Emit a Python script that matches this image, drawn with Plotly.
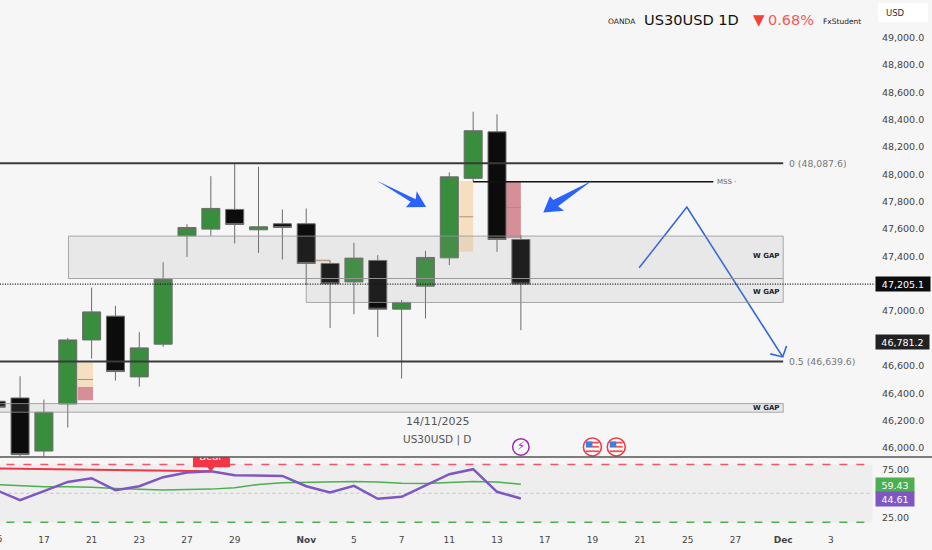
import plotly.graph_objects as go
from plotly.subplots import make_subplots

FONT = 'DejaVu Sans'
BG = '#f6f6f6'
BLUE = '#2f66dd'

# daily bars, index 0 = 15 Oct 2025
bar_index = list(range(23))
opens = [46349, 46373, 45985, 46329, 46797, 46971, 46527, 46766, 47558, 47607, 47751, 47602,
         47646, 47646, 47356, 47221, 47378, 47022, 47190, 47397, 47978, 48318, 47531]
highs = [46370, 46532, 46361, 46812, 47180, 47046, 46854, 47365, 47643, 47994, 48087, 48062,
         47751, 47758, 47378, 47507, 47417, 47088, 47448, 48022, 48465, 48446, 47563]
lows = [46290, 45947, 45947, 46157, 46661, 46500, 46456, 46746, 47404, 47558, 47502, 47433,
        47385, 47200, 46885, 46985, 46819, 46515, 46954, 47344, 47953, 47441, 46868]
closes = [46305, 45959, 46268, 46797, 47002, 46566, 46739, 47241, 47619, 47758, 47641, 47624,
          47619, 47356, 47207, 47395, 47022, 47071, 47400, 47989, 48326, 47531, 47205.1]

rsi = [53.2, 42.9, 52.2, 61.8, 65.6, 53.2, 57.3, 66.7, 71.5, 72.9, 68.7, 68.0,
       68.0, 57.3, 50.8, 57.7, 44.2, 46.3, 57.7, 69.8, 75.0, 51.5, 44.61]
rsi_ma = [59.0, 57.7, 56.7, 56.7, 56.3, 55.0, 54.0, 53.3, 54.0, 54.3, 55.7, 59.1,
          60.8, 61.2, 61.5, 62.2, 61.8, 60.5, 60.1, 61.2, 62.2, 61.8, 59.43]
# bearish divergence line on the rsi pane
div_x = [0, 9]
div_y = [75.7, 72.9]

tick_pos = [2, 4, 6, 8, 10, 13, 15, 17, 19, 21, 23, 25, 27, 29, 31, 33, 35]
tick_text = ['17', '21', '23', '27', '29', '<b>Nov</b>', '5', '7', '11', '13', '17', '19',
             '21', '25', '27', '<b>Dec</b>', '3']
price_ticks = [46000, 46200, 46400, 46600, 47000, 47400, 47600, 47800, 48000, 48200,
               48400, 48600, 48800, 49000]

fib_levels = [48087.6, 46639.6]
fib_labels = ['0 (48,087.6)', '0.5 (46,639.6)']
last_price = 47205.1
second_price = 46781.2

# gap boxes: x0, x1, top, bottom, label y
gaps = [(3.03, 33, 47556, 47246, 47409),
        (13, 33, 47246, 47071, 47146),
        (-1, 33, 46332, 46269, 46303)]

# hand drawn arrows (bar index, price)
arrow1_x = [15.97, 17.59, 17.63, 18.03, 17.18, 17.38]
arrow1_y = [47960, 47826, 47883, 47768, 47766, 47807]
arrow2_x = [24.98, 23.36, 23.22, 22.94, 23.81, 23.56]
arrow2_y = [47960, 47819, 47848, 47729, 47741, 47775]
path_x = [26.96, 28.96, 32.98]
path_y = [47324, 47768, 46673]
head_x = [32.46, 32.98, 33.14]
head_y = [46695, 46673, 46753]

fig = make_subplots(rows=2, cols=1, shared_xaxes=True, vertical_spacing=0,
                    row_heights=[0.8655, 0.1345])

fig.add_trace(go.Candlestick(
    x=bar_index, open=opens, high=highs, low=lows, close=closes,
    increasing=dict(fillcolor='#388e3c', line=dict(color='#6c6c6c', width=1)),
    decreasing=dict(fillcolor='#0c0c0c', line=dict(color='#6c6c6c', width=1)),
    hoverinfo='skip'), row=1, col=1)

fig.add_trace(go.Scatter(x=path_x, y=path_y, mode='lines', line=dict(color=BLUE, width=1.6)), row=1, col=1)
fig.add_trace(go.Scatter(x=head_x, y=head_y, mode='lines', line=dict(color=BLUE, width=1.6)), row=1, col=1)

# event icons, sitting just above the pane border
icon_y = 46015
fig.add_trace(go.Scatter(x=[22], y=[icon_y], mode='markers+text', text=['⚡'],
                         textposition='middle center',
                         textfont=dict(color='#9c27b0', size=12, family=FONT),
                         marker=dict(size=16.5, color='#fbfbfb', line=dict(color='#9c27b0', width=1.5))),
              row=1, col=1)
fig.add_trace(go.Scatter(x=[25, 26], y=[icon_y, icon_y], mode='markers',
                         marker=dict(size=18, color='#fbfbfb', line=dict(color='#ef3b4a', width=1.6))),
              row=1, col=1)

# rsi pane
fig.add_trace(go.Scatter(x=div_x, y=div_y, mode='lines', line=dict(color='#f23645', width=2)), row=2, col=1)
fig.add_trace(go.Scatter(x=bar_index, y=rsi_ma, mode='lines', line=dict(color='#4caf50', width=1.5)), row=2, col=1)
fig.add_trace(go.Scatter(x=bar_index, y=rsi, mode='lines', line=dict(color='#7e57c2', width=2.5)), row=2, col=1)
fig.add_trace(go.Scatter(x=[9], y=[76], mode='markers',
                         marker=dict(symbol='triangle-down', size=7, color='#f23645')), row=2, col=1)
fig.add_trace(go.Scatter(x=[9], y=[87.4], mode='text', text=['Bear'], cliponaxis=True,
                         textfont=dict(color='white', size=10, family=FONT)), row=2, col=1)

# fvg boxes go under the candles
for x0, x1, top, mid, bottom, color in [(19.42, 20, 47958, 47697, 47441, '#f5dfc0'),
                                        (21.38, 22, 47953, 47765, 47541, '#d68f97'),
                                        (3.42, 4.06, 46632, 46508, 46453, '#f5dfc0'),
                                        (3.42, 4.06, 46453, None, 46356, '#d68f97')]:
    fig.add_shape(type='rect', x0=x0, x1=x1, y0=bottom, y1=top, xref='x', yref='y',
                  fillcolor=color, line_width=0, layer='below')
    if mid:
        fig.add_shape(type='line', x0=x0, x1=x1, y0=mid, y1=mid, xref='x', yref='y',
                      line=dict(color='#b98a70', width=1), layer='below')
fig.add_shape(type='line', x0=13.4, x1=14, y0=47378, y1=47378, xref='x', yref='y',
              line=dict(color='#c0a080', width=1.5), layer='below')

for x0, x1, top, bottom, label_y in gaps:
    fig.add_shape(type='rect', x0=x0, x1=x1, y0=bottom, y1=top, xref='x', yref='y',
                  fillcolor='rgba(143,143,143,0.136)', line=dict(color='rgba(150,150,150,0.8)', width=1))
    fig.add_annotation(x=32.9, y=label_y, xref='x', yref='y', text='<b>W GAP</b>', showarrow=False,
                       xanchor='right', font=dict(size=7, color='#222', family=FONT))

for level, label in zip(fib_levels, fib_labels):
    fig.add_shape(type='line', x0=-1, x1=33, y0=level, y1=level, xref='x', yref='y',
                  line=dict(color='#3a3a3a', width=2))
    fig.add_annotation(x=33.16, y=level, xref='x', yref='y', text=label, showarrow=False,
                       xanchor='left', font=dict(size=9.3, color='#777', family=FONT))

fig.add_shape(type='line', x0=20, x1=30.07, y0=47954, y1=47954, xref='x', yref='y',
              line=dict(color='#111', width=1.5))
fig.add_annotation(x=30.16, y=47954, xref='x', yref='y', text='MSS ·', showarrow=False,
                   xanchor='left', font=dict(size=7, color='#666', family=FONT))

fig.add_shape(type='line', x0=-1, x1=37, y0=last_price, y1=last_price, xref='x', yref='y',
              line=dict(color='#111', width=1.2, dash='1px,1.5px'))

for xs, ys in [(arrow1_x, arrow1_y), (arrow2_x, arrow2_y)]:
    d = 'M ' + ' L '.join(f'{a},{b}' for a, b in zip(xs, ys)) + ' Z'
    fig.add_shape(type='path', path=d, xref='x', yref='y', fillcolor='#2962ff', line_width=0)

# little flags inside the event circles
for cx in [25, 26]:
    for y0, y1 in [(icon_y + 38, icon_y + 25), (icon_y + 8, icon_y - 5), (icon_y - 25, icon_y - 38)]:
        fig.add_shape(type='rect', x0=cx - 0.27, x1=cx + 0.27, y0=y0, y1=y1, xref='x', yref='y',
                      fillcolor='#ef5350', line_width=0)
    fig.add_shape(type='rect', x0=cx - 0.27, x1=cx, y0=icon_y, y1=icon_y + 40, xref='x', yref='y',
                  fillcolor='#3d7fd9', line_width=0)

# rsi band and its bounds
fig.add_shape(type='rect', x0=-1, x1=36.75, y0=20, y1=80, xref='x2', yref='y2',
              fillcolor='#eeeeee', line_width=0, layer='below')
fig.add_shape(type='line', x0=-1, x1=36.75, y0=80, y1=80, xref='x2', yref='y2',
              line=dict(color='#ee5570', width=1.5, dash='8px,9px'), layer='below')
fig.add_shape(type='line', x0=-1, x1=36.75, y0=20, y1=20, xref='x2', yref='y2',
              line=dict(color='#4caf50', width=1.5, dash='8px,9px'), layer='below')
fig.add_shape(type='line', x0=-1, x1=36.75, y0=50, y1=50, xref='x2', yref='y2',
              line=dict(color='#c4c4c4', width=1, dash='3px,3px'), layer='below')
fig.add_shape(type='rect', x0=8.25, x1=9.8, y0=77, y1=95, xref='x2', yref='y2',
              fillcolor='#f23645', line_width=0, layer='below')

# pane border runs across the whole picture
fig.add_shape(type='line', x0=0, x1=932 / 875, y0=0.1345, y1=0.1345, xref='paper', yref='paper',
              line=dict(color='#555', width=1.5))


def text(x, y, s, size, color='#222', anchor='left'):
    fig.add_annotation(x=x / 875, y=1 - y / 528, xref='paper', yref='paper', text=s, showarrow=False,
                       xanchor=anchor, yanchor='middle', font=dict(size=size, color=color, family=FONT),
                       borderpad=0)


text(437, 421, '14/11/2025', 11, '#555', 'center')
text(437, 439.5, 'US30USD | D', 10.5, '#555', 'center')
text(607, 21, 'OANDA', 7.5, '#222')
text(643, 20, 'US30USD 1D', 14.6, '#111')
text(752, 20, '▼', 15, '#f44336')
text(767, 20, '0.68%', 14.5, '#f45a5a')
text(822, 21, 'FxStudent', 7.5, '#222')
text(-3.8, 539, '15', 9, '#444', 'center')

# right hand price tags
fig.add_shape(type='rect', x0=878 / 875, x1=928 / 875, y0=1 - 22 / 528, y1=1 - 3 / 528,
              xref='paper', yref='paper', fillcolor='white', line_width=0)
text(885, 13, 'USD', 8.5, '#333')
for y, s, color, w in [(283.5, '47,205.1', '#0c0c0c', 54), (341.8, '46,781.2', '#222', 53),
                       (484.7, '59.43', '#4caf50', 38), (498.6, '44.61', '#7e57c2', 38)]:
    fig.add_annotation(x=1.0, y=1 - y / 528, xref='paper', yref='paper', text=s, showarrow=False,
                       xanchor='left', yanchor='middle', bgcolor=color, width=w, height=14,
                       align='center', borderpad=0, font=dict(size=9.5, color='white', family=FONT))

fig.update_xaxes(range=[0.159, 36.85], showgrid=False, zeroline=False, showline=False,
                 rangeslider_visible=False)
fig.update_xaxes(tickmode='array', tickvals=tick_pos, ticktext=tick_text, ticks='outside',
                 ticklen=3, tickcolor=BG, tickfont=dict(size=9, color='#444', family=FONT), row=2, col=1)
fig.update_yaxes(side='right', showgrid=False, zeroline=False, showline=False, ticks='outside',
                 ticklen=4, tickcolor=BG, tickfont=dict(size=9.5, color='#444', family=FONT))
fig.update_yaxes(range=[45941.6, 49281.5], tickmode='array', tickvals=price_ticks,
                 tickformat=',.1f', ticklabelshift=-1, row=1, col=1)
fig.update_yaxes(range=[13.9, 87.7], tickmode='array', tickvals=[25, 75], tickformat='.2f', row=2, col=1)

fig.update_layout(width=932, height=550, margin=dict(l=0, r=57, t=0, b=22), showlegend=False,
                  paper_bgcolor=BG, plot_bgcolor=BG, boxgap=0.245, boxgroupgap=0,
                  font=dict(family=FONT))

fig.write_html('out.html', config=dict(displayModeBar=False),
               post_script="document.body.style.margin='0';document.body.style.overflow='hidden';")
